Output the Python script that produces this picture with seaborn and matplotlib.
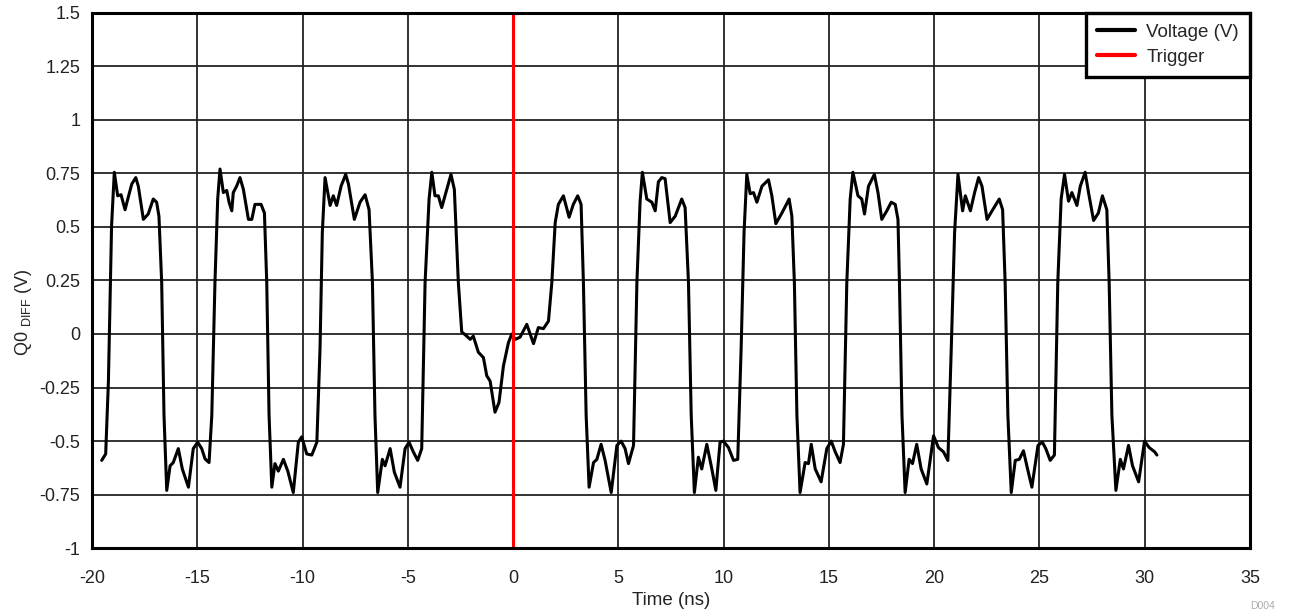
import numpy as np
import pandas as pd
import matplotlib
matplotlib.use("Agg")
import matplotlib.pyplot as plt
import seaborn as sns

# waveform (time in ns, voltage in V)
time_ns = [-19.54, -19.35, -19.22, -19.07, -18.94, -18.78, -18.62, -18.43, -18.30, -18.11,
           -17.92, -17.80, -17.56, -17.33, -17.09, -16.93, -16.82, -16.69, -16.58, -16.45,
           -16.29, -16.14, -15.90, -15.71, -15.42, -15.19, -14.98, -14.79, -14.63, -14.44,
           -14.31, -14.16, -14.03, -13.92, -13.76, -13.60, -13.49, -13.36, -13.29, -13.13,
           -12.97, -12.81, -12.57, -12.41, -12.26, -11.97, -11.81, -11.70, -11.59, -11.46,
           -11.31, -11.15, -10.91, -10.70, -10.44, -10.20, -10.04, -9.80, -9.56, -9.32,
           -9.17, -9.06, -8.93, -8.69, -8.54, -8.38, -8.17, -7.95, -7.82, -7.54,
           -7.27, -7.03, -6.84, -6.68, -6.56, -6.43, -6.21, -6.08, -5.84, -5.64,
           -5.37, -5.13, -4.94, -4.74, -4.53, -4.34, -4.18, -3.99, -3.86, -3.71,
           -3.55, -3.39, -3.15, -2.95, -2.79, -2.60, -2.44, -2.20, -2.04, -1.89,
           -1.65, -1.41, -1.25, -1.09, -0.86, -0.67, -0.46, -0.22, -0.06, 0.10,
           0.33, 0.65, 0.97, 1.20, 1.44, 1.68, 1.84, 2.00, 2.15, 2.39,
           2.66, 2.86, 3.07, 3.23, 3.34, 3.47, 3.61, 3.82, 3.98, 4.18,
           4.37, 4.66, 4.93, 5.13, 5.32, 5.48, 5.72, 5.88, 6.03, 6.14,
           6.35, 6.59, 6.75, 6.90, 7.06, 7.22, 7.46, 7.70, 8.01, 8.17,
           8.33, 8.46, 8.61, 8.80, 8.96, 9.20, 9.44, 9.63, 9.83, 9.99,
           10.23, 10.47, 10.67, 10.83, 10.97, 11.10, 11.26, 11.42, 11.58, 11.82,
           12.13, 12.29, 12.48, 12.77, 13.11, 13.24, 13.36, 13.48, 13.63, 13.87,
           14.03, 14.16, 14.35, 14.63, 14.90, 15.11, 15.30, 15.53, 15.69, 15.85,
           16.01, 16.14, 16.38, 16.56, 16.69, 16.88, 17.16, 17.33, 17.51, 17.75,
           17.96, 18.15, 18.28, 18.35, 18.47, 18.62, 18.81, 18.97, 19.17, 19.38,
           19.65, 19.97, 20.20, 20.44, 20.65, 20.81, 20.97, 21.13, 21.35, 21.48,
           21.72, 21.92, 22.11, 22.27, 22.51, 22.75, 23.09, 23.25, 23.37, 23.50,
           23.66, 23.85, 24.04, 24.24, 24.40, 24.64, 24.93, 25.14, 25.30, 25.51,
           25.71, 25.87, 26.03, 26.19, 26.38, 26.54, 26.78, 26.94, 27.17, 27.33,
           27.57, 27.80, 27.99, 28.20, 28.31, 28.44, 28.63, 28.84, 28.99, 29.23,
           29.42, 29.71, 29.99, 30.21, 30.47, 30.58]
voltage = [-0.59, -0.56, -0.22, 0.505, 0.755, 0.645, 0.65, 0.58, 0.63, 0.70,
           0.73, 0.69, 0.535, 0.56, 0.63, 0.615, 0.55, 0.24, -0.38, -0.73,
           -0.615, -0.60, -0.535, -0.63, -0.715, -0.535, -0.505, -0.535, -0.583, -0.60,
           -0.38, 0.24, 0.63, 0.77, 0.66, 0.67, 0.615, 0.575, 0.66, 0.69,
           0.73, 0.675, 0.535, 0.535, 0.605, 0.605, 0.565, 0.24, -0.38, -0.715,
           -0.605, -0.64, -0.585, -0.64, -0.74, -0.505, -0.48, -0.56, -0.565, -0.505,
           -0.07, 0.475, 0.73, 0.60, 0.645, 0.60, 0.69, 0.745, 0.70, 0.535,
           0.615, 0.65, 0.58, 0.24, -0.38, -0.74, -0.585, -0.615, -0.535, -0.645,
           -0.715, -0.535, -0.505, -0.55, -0.59, -0.535, 0.24, 0.63, 0.755, 0.645,
           0.645, 0.59, 0.675, 0.745, 0.675, 0.24, 0.01, -0.01, -0.025, -0.01,
           -0.085, -0.11, -0.195, -0.22, -0.365, -0.32, -0.15, -0.04, 0.0, -0.025,
           -0.015, 0.045, -0.045, 0.03, 0.025, 0.06, 0.24, 0.52, 0.605, 0.645,
           0.545, 0.605, 0.645, 0.605, 0.24, -0.38, -0.715, -0.60, -0.585, -0.515,
           -0.59, -0.74, -0.52, -0.50, -0.535, -0.605, -0.52, 0.24, 0.615, 0.755,
           0.63, 0.615, 0.575, 0.71, 0.73, 0.725, 0.52, 0.55, 0.63, 0.59,
           0.24, -0.38, -0.74, -0.575, -0.63, -0.515, -0.63, -0.73, -0.505, -0.50,
           -0.53, -0.59, -0.585, -0.07, 0.475, 0.745, 0.655, 0.66, 0.615, 0.69,
           0.72, 0.645, 0.515, 0.565, 0.63, 0.55, 0.24, -0.38, -0.74, -0.60,
           -0.605, -0.515, -0.63, -0.69, -0.535, -0.50, -0.55, -0.60, -0.515, 0.24,
           0.63, 0.755, 0.645, 0.63, 0.56, 0.69, 0.745, 0.66, 0.535, 0.575,
           0.615, 0.605, 0.535, 0.24, -0.38, -0.74, -0.585, -0.605, -0.515, -0.63,
           -0.70, -0.475, -0.53, -0.55, -0.59, -0.07, 0.475, 0.745, 0.575, 0.645,
           0.575, 0.66, 0.73, 0.69, 0.535, 0.575, 0.63, 0.58, 0.24, -0.38,
           -0.74, -0.59, -0.585, -0.545, -0.615, -0.715, -0.52, -0.505, -0.535, -0.59,
           -0.565, 0.24, 0.63, 0.745, 0.62, 0.66, 0.60, 0.69, 0.755, 0.66,
           0.53, 0.565, 0.645, 0.58, 0.24, -0.38, -0.73, -0.585, -0.63, -0.52,
           -0.615, -0.69, -0.50, -0.53, -0.55, -0.565]

trigger_t = [0, 0]
trigger_v = [-1, 1.5]

x_ticks = [-20, -15, -10, -5, 0, 5, 10, 15, 20, 25, 30, 35]
y_ticks = [-1, -0.75, -0.5, -0.25, 0, 0.25, 0.5, 0.75, 1, 1.25, 1.5]
y_tick_labels = ["-1", "-0.75", "-0.5", "-0.25", "0", "0.25", "0.5", "0.75", "1", "1.25", "1.5"]

sns.set_style("white")
plt.rcParams['font.family'] = ['Liberation Sans', 'DejaVu Sans']
plt.rcParams['mathtext.fontset'] = 'custom'
plt.rcParams['mathtext.rm'] = 'Liberation Sans'

wave = pd.DataFrame({"t": time_ns, "v": voltage})
trig = pd.DataFrame({"t": trigger_t, "v": trigger_v})

fig = plt.figure(figsize=(12.92, 6.16), dpi=100)
ax = fig.add_axes([0.0712, 0.110, 0.8963, 0.8695])

sns.lineplot(data=wave, x="t", y="v", ax=ax, color="black", linewidth=2.2,
             estimator=None, sort=False, label="Voltage (V)")
sns.lineplot(data=trig, x="t", y="v", ax=ax, color="#ff0000", linewidth=2.2,
             estimator=None, sort=False, label="Trigger")

ax.set_xlim(-20, 35)
ax.set_ylim(-1, 1.5)
ax.set_xticks(x_ticks)
ax.set_xticklabels([str(x) for x in x_ticks])
ax.set_yticks(y_ticks)
ax.set_yticklabels(y_tick_labels)
ax.tick_params(axis="both", length=0, labelsize=13, colors="#222222")
ax.tick_params(axis="x", pad=16)
ax.tick_params(axis="y", pad=8.5)

ax.grid(True, color="#222222", linewidth=1.3)
ax.set_axisbelow(True)
for s in ax.spines.values():
    s.set_color("black")
    s.set_linewidth(2.2)

ax.set_xlabel("Time (ns)", fontsize=13.5, color="#222222", labelpad=3)
ax.set_ylabel(r"Q0 $_{\mathregular{DIFF}}$ (V)", fontsize=13, color="#222222")
ax.yaxis.set_label_coords(-0.050, 0.44)

leg = ax.legend(loc="upper right", borderaxespad=0, fancybox=False, framealpha=1,
                edgecolor="black", fontsize=13.5, handlelength=2.0, handletextpad=0.6,
                borderpad=0.6, labelspacing=0.42)
leg.get_frame().set_linewidth(2.4)
for h in leg.get_lines():
    h.set_linewidth(3)

fig.text(0.9768, 0.012, "D004", fontsize=7.5, color="#aaaaaa", ha="center")

fig.savefig("out.png", dpi=100)
